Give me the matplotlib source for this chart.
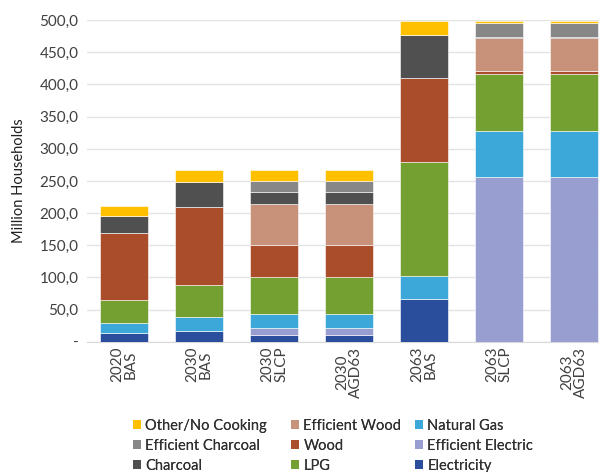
import numpy as np
import matplotlib.pyplot as plt
from matplotlib.patches import Patch
from matplotlib.ticker import FuncFormatter

plt.rcParams['font.family'] = ['Lato', 'DejaVu Sans']

# scenarios on the x axis
scenarios = ['2020\nBAS', '2030\nBAS', '2030\nSLCP', '2030\nAGD63',
             '2063\nBAS', '2063\nSLCP', '2063\nAGD63']

# million households per fuel, stacked bottom to top
electricity = [13, 17, 11, 11, 66, 0, 0]
eff_electric = [0, 0, 11, 11, 0, 256, 256]
natural_gas = [16, 21, 20.5, 20.5, 36, 71.5, 71.5]
lpg = [36, 50, 58, 58, 177, 88.5, 88.5]
wood = [104, 121, 50, 50, 131, 5, 5]
eff_wood = [0, 0, 64, 64, 0, 51.5, 51.5]
charcoal = [27, 39, 19, 19, 67, 1.5, 1.5]
eff_charcoal = [0, 0, 16, 16, 0, 22, 22]
other = [15, 19, 17, 17, 22, 3, 3]

series = [
    ('Electricity', electricity, '#2a4e9b'),
    ('Efficient Electric', eff_electric, '#989ed0'),
    ('Natural Gas', natural_gas, '#3ca8da'),
    ('LPG', lpg, '#74a031'),
    ('Wood', wood, '#a94d2a'),
    ('Efficient Wood', eff_wood, '#c8917a'),
    ('Charcoal', charcoal, '#505050'),
    ('Efficient Charcoal', eff_charcoal, '#878787'),
    ('Other/No Cooking', other, '#ffc000'),
]

fig = plt.figure(figsize=(5.99, 4.72), dpi=100)
ax = fig.add_axes([0.145, 0.276, 0.876, 0.6815])

x = np.arange(len(scenarios))
bottom = np.zeros(len(scenarios))
colors = {}
for name, vals, col in series:
    vals = np.array(vals, dtype=float)
    ax.bar(x, vals, 0.64, bottom=bottom, color=col, edgecolor='white',
           linewidth=0.4, zorder=3)
    bottom += vals
    colors[name] = col

ax.set_xlim(-0.5, 6.5)
ax.set_ylim(0, 500)
ax.set_yticks(np.arange(0, 501, 50))
ax.yaxis.set_major_formatter(FuncFormatter(
    lambda v, p: '-' if v == 0 else f'{v:.1f}'.replace('.', ',')))
ax.grid(axis='y', color='#e3e3e3', linewidth=1, zorder=0)
for s in ['top', 'right', 'left']:
    ax.spines[s].set_visible(False)
ax.spines['bottom'].set_color('#d9d9d9')
ax.tick_params(axis='both', length=0, colors='#404040', labelsize=11)
ax.tick_params(axis='y', pad=6)
ax.set_xticks(x)
ax.set_xticklabels(scenarios, rotation=90, linespacing=0.95)
ax.set_ylabel('Million Households', fontsize=10.5, color='#202020', labelpad=10)

# legend: three fixed-position columns, filled row-wise like the original
legend_cols = [
    ['Other/No Cooking', 'Efficient Charcoal', 'Charcoal'],
    ['Efficient Wood', 'Wood', 'LPG'],
    ['Natural Gas', 'Efficient Electric', 'Electricity'],
]
col_x = [133, 291, 415]
for names, px in zip(legend_cols, col_x):
    handles = [Patch(facecolor=colors[n], label=n) for n in names]
    leg = fig.legend(handles=handles, loc='upper left',
                     bbox_to_anchor=(px / 599, 1 - 419 / 472),
                     frameon=False, fontsize=10.5, borderpad=0,
                     borderaxespad=0, handlelength=0.55, handleheight=0.55,
                     handletextpad=0.3, labelspacing=0.4,
                     labelcolor='#303030')
    fig.add_artist(leg)

fig.savefig('out.png', dpi=100)
